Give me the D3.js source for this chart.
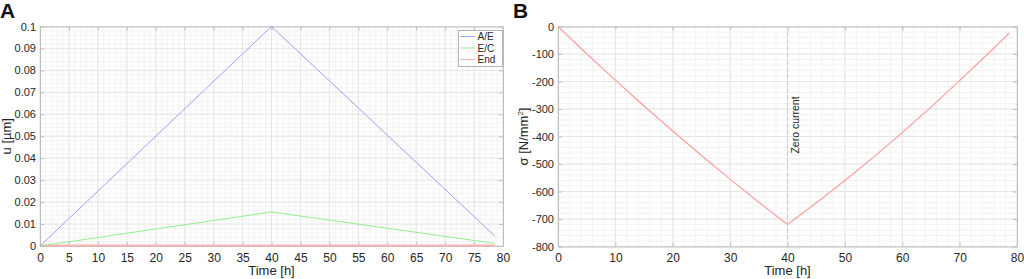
<!DOCTYPE html>
<html>
<head>
<meta charset="utf-8">
<script src="https://cdn.jsdelivr.net/npm/d3@7"></script>
<style>
  body { margin: 0; background: #fff; }
  svg { font-family: "Liberation Sans", Arial, sans-serif; }
  .tick text { fill: #262626; }
</style>
</head>
<body>
<svg width="1024" height="279"></svg>
<script>
const w = 1024
const h = 279

// panel A data: displacement u [µm] over time
const timeA = [0, 40, 78.6]
const uAE = [0, 0.1, 0.0045]
const uEC = [0, 0.0155, 0.0012]
const uEnd = [0.0002, 0.0002, 0.0002]
const legendLabels = ['A/E', 'E/C', 'End']

// panel B data: stress sigma [N/mm2] over time
const timeB = [0, 5, 10, 15, 20, 25, 30, 35, 40, 45, 50, 55, 60, 65, 70, 75, 78.7]
const sigma = [0, -99, -195, -289, -380, -469, -555, -639, -720,
  -642, -560, -475, -386, -293, -197, -98, -23]
const zeroCurrentTime = 40

const xTicksA = d3.range(0, 81, 5)
const yTicksA = d3.range(0, 0.1001, 0.01)
const xTicksB = d3.range(0, 81, 10)
const yTicksB = d3.range(-800, 1, 100)

const svg = d3.select('svg')
  .attr('width', w)
  .attr('height', h);

const gridMajor = '#e6e6e6'
const gridMinor = '#f3f3f3'
const axisCol = '#bdbdbd'

// draws box, grid, ticks in the MATLAB look
const drawFrame = (g, x, y, xt, yt, xMinor, yMinor, yFmt) => {
  const [x0, x1] = x.range()
  const [y0, y1] = y.range() // y0 bottom, y1 top

  g.append('g').selectAll('line').data(xMinor).enter().append('line')
    .attr('x1', d => x(d)).attr('x2', d => x(d))
    .attr('y1', y0).attr('y2', y1)
    .attr('stroke', gridMinor).attr('stroke-width', 1)
  g.append('g').selectAll('line').data(yMinor).enter().append('line')
    .attr('y1', d => y(d)).attr('y2', d => y(d))
    .attr('x1', x0).attr('x2', x1)
    .attr('stroke', gridMinor).attr('stroke-width', 1)
  g.append('g').selectAll('line').data(xt).enter().append('line')
    .attr('x1', d => x(d)).attr('x2', d => x(d))
    .attr('y1', y0).attr('y2', y1)
    .attr('stroke', gridMajor).attr('stroke-width', 1)
  g.append('g').selectAll('line').data(yt).enter().append('line')
    .attr('y1', d => y(d)).attr('y2', d => y(d))
    .attr('x1', x0).attr('x2', x1)
    .attr('stroke', gridMajor).attr('stroke-width', 1)

  const styleAxis = a => {
    a.selectAll('.domain').attr('stroke', axisCol)
    a.selectAll('.tick line').attr('stroke', axisCol)
  }
  const xb = g.append('g').attr('transform', `translate(0,${y0})`)
    .call(d3.axisBottom(x).tickValues(xt).tickSizeInner(-4).tickSizeOuter(0).tickPadding(7))
  xb.selectAll('text').attr('font-size', 12)
  styleAxis(xb)
  const xt2 = g.append('g').attr('transform', `translate(0,${y1})`)
    .call(d3.axisTop(x).tickValues(xt).tickSizeInner(-4).tickSizeOuter(0).tickFormat(''))
  styleAxis(xt2)
  const yl = g.append('g').attr('transform', `translate(${x0},0)`)
    .call(d3.axisLeft(y).tickValues(yt).tickSizeInner(-4).tickSizeOuter(0).tickPadding(4).tickFormat(yFmt))
  yl.selectAll('text').attr('font-size', 11)
  styleAxis(yl)
  const yr = g.append('g').attr('transform', `translate(${x1},0)`)
    .call(d3.axisRight(y).tickValues(yt).tickSizeInner(-4).tickSizeOuter(0).tickFormat(''))
  styleAxis(yr)
}

// ---------- panel A ----------
const xA = d3.scaleLinear().domain([0, 80]).range([40, 503])
const yA = d3.scaleLinear().domain([0, 0.1]).range([246, 26.5])
const gA = svg.append('g')
drawFrame(gA, xA, yA, xTicksA, yTicksA,
  d3.range(0, 80.01, 1), d3.range(0, 0.1001, 0.002),
  d => d === 0 ? '0' : d3.format('.2~f')(d))

const lineA = vals => d3.line()
  .x((d, i) => xA(timeA[i]))
  .y(d => yA(d))(vals)

const seriesA = [
  { vals: uEnd, color: '#ffb3b3', width: 2 },
  { vals: uEC, color: '#8fef8f', width: 1 },
  { vals: uAE, color: '#9f9ff5', width: 1 }
]
seriesA.forEach(s => {
  gA.append('path')
    .attr('d', lineA(s.vals))
    .attr('fill', 'none')
    .attr('stroke', s.color)
    .attr('stroke-width', s.width)
})

// legend
const leg = gA.append('g').attr('transform', 'translate(458.5,30.5)')
leg.append('rect').attr('width', 44).attr('height', 36)
  .attr('fill', '#fff').attr('stroke', '#a0a0a0').attr('stroke-width', 0.8)
const legColors = ['#9f9ff5', '#8fef8f', '#ffb3b3']
legendLabels.forEach((lab, i) => {
  const yy = 6 + i * 11.5
  leg.append('line').attr('x1', 2).attr('x2', 17).attr('y1', yy).attr('y2', yy)
    .attr('stroke', legColors[i])
  leg.append('text').attr('x', 19).attr('y', yy + 3.5)
    .attr('font-size', 10).attr('fill', '#262626').text(lab)
})

gA.append('text')
  .attr('transform', `translate(11,${(26.5 + 246) / 2}) rotate(-90)`)
  .attr('text-anchor', 'middle')
  .attr('font-size', 13).attr('fill', '#262626')
  .text('u [µm]')
gA.append('text')
  .attr('x', (40 + 503) / 2).attr('y', 275)
  .attr('text-anchor', 'middle')
  .attr('font-size', 13).attr('fill', '#262626')
  .text('Time [h]')

// ---------- panel B ----------
const xB = d3.scaleLinear().domain([0, 80]).range([558, 1017])
const yB = d3.scaleLinear().domain([-800, 0]).range([246.5, 26.5])
const gB = svg.append('g')
drawFrame(gB, xB, yB, xTicksB, yTicksB,
  d3.range(0, 80.01, 2), d3.range(-800, 0.01, 20),
  d => d3.format('d')(d).replace('−', '-'))

gB.append('line')
  .attr('x1', xB(zeroCurrentTime)).attr('x2', xB(zeroCurrentTime))
  .attr('y1', yB(-800)).attr('y2', yB(0))
  .attr('stroke', '#cccccc').attr('stroke-width', 1.2)
  .attr('stroke-dasharray', '4,3')
gB.append('text')
  .attr('transform', `translate(${xB(zeroCurrentTime) + 11},125) rotate(-90)`)
  .attr('text-anchor', 'middle')
  .attr('font-size', 10.5).attr('fill', '#262626')
  .text('Zero current')

gB.append('path')
  .attr('d', d3.line().x((d, i) => xB(timeB[i])).y(d => yB(d))(sigma))
  .attr('fill', 'none')
  .attr('stroke', '#ff9c9c')
  .attr('stroke-width', 1.2)

const sLab = gB.append('text')
  .attr('transform', `translate(528,${(26.5 + 246.5) / 2}) rotate(-90)`)
  .attr('text-anchor', 'middle')
  .attr('font-size', 13).attr('fill', '#262626')
sLab.append('tspan').text('σ [N/mm')
sLab.append('tspan').attr('font-size', 8).attr('dy', -5).text('2')
sLab.append('tspan').attr('dy', 5).text(']')
gB.append('text')
  .attr('x', (558 + 1017) / 2).attr('y', 275)
  .attr('text-anchor', 'middle')
  .attr('font-size', 13).attr('fill', '#262626')
  .text('Time [h]')

// panel letters
svg.append('text').attr('x', 0).attr('y', 18)
  .attr('font-size', 21).attr('font-weight', 'bold').attr('fill', '#111').text('A')
svg.append('text').attr('x', 513).attr('y', 18)
  .attr('font-size', 21).attr('font-weight', 'bold').attr('fill', '#111').text('B')
</script>
</body>
</html>
